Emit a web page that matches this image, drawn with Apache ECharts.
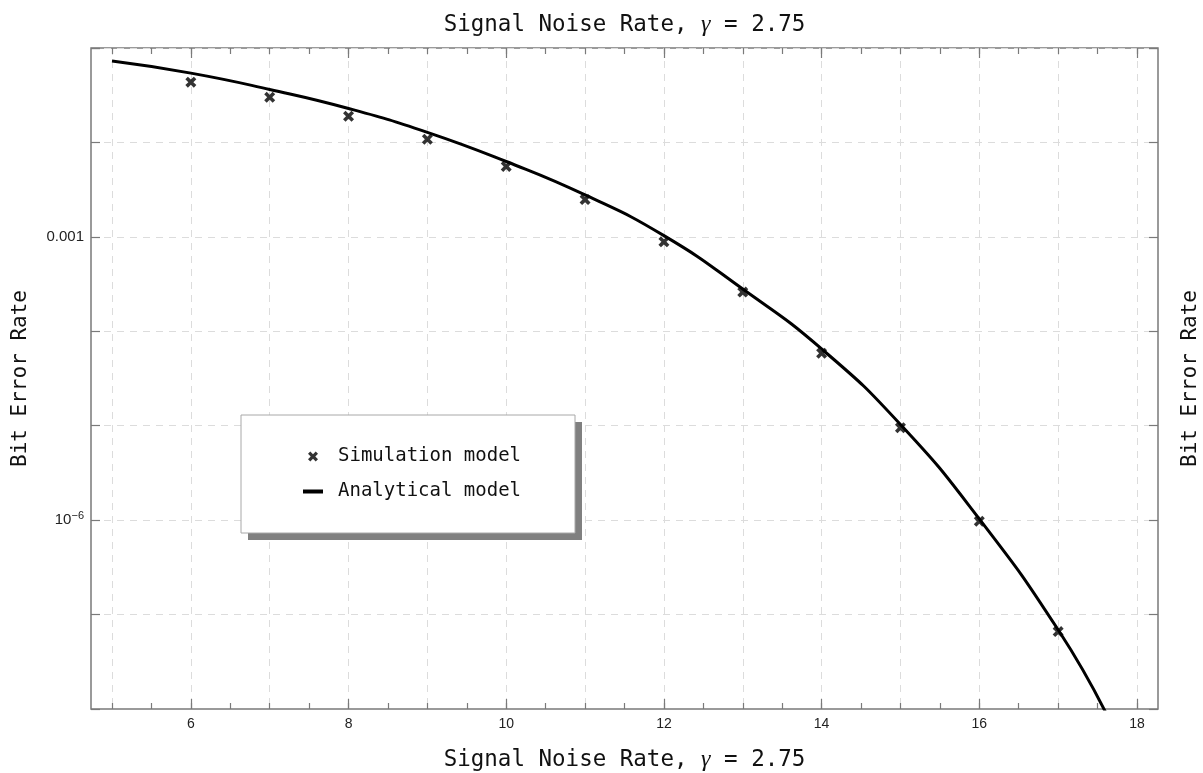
<!DOCTYPE html>
<html>
<head>
<meta charset="utf-8">
<script src="https://cdn.jsdelivr.net/npm/echarts@6/dist/echarts.min.js"></script>
<style>
  html, body { margin: 0; padding: 0; background: #fff; }
  #main { width: 1203px; height: 773px; }
</style>
</head>
<body>
<div id="main"></div>
<script>
// simulation points
const simX = [6, 7, 8, 9, 10, 11, 12, 13, 14, 15, 16, 17]
const simY = [0.0435, 0.0301, 0.0189, 0.0108, 0.00556, 0.00248, 0.000885, 0.00026, 5.84e-5, 9.5e-6, 9.75e-7, 6.6e-8]
// analytical curve
const anaX = [5, 6, 7, 8, 9, 10, 11, 12, 13, 14, 15, 16, 17, 17.6]
const anaY = [0.0727, 0.0542, 0.0364, 0.0229, 0.0128, 0.00628, 0.00278, 0.00103, 0.00028, 6.5e-5, 1.03e-5, 1.03e-6, 6.9e-8, 9.3e-9]
const xLabels = [6, 8, 10, 12, 14, 16, 18]
const yLabels = [-3, -6] // exponents that get a label

const mono = 'DejaVu Sans Mono'
const axisGray = '#7a7a7a'
const titleRich = {
  a: { fontFamily: mono, fontSize: 22.5, color: '#111' },
  g: { fontFamily: 'Liberation Serif', fontStyle: 'italic', fontSize: 24, color: '#111' }
}
const titleText = '{a|Signal Noise Rate, }{g|γ}{a| = 2.75}'
const xCross = 'path://M0,2.3L2.3,0L5,2.7L7.7,0L10,2.3L7.3,5L10,7.7L7.7,10L5,7.3L2.3,10L0,7.7L2.7,5Z'

function xAxisBase(pos) {
  return {
    type: 'value', gridIndex: 0, position: pos, min: 5, max: 18, interval: 1,
    axisLine: { show: false },
    axisTick: { show: true, inside: true, length: 6, lineStyle: { color: axisGray, width: 1.2 } },
    minorTick: { show: true, splitNumber: 2, length: 6, lineStyle: { color: axisGray, width: 1.2 } },
    axisLabel: { show: false },
    splitLine: { show: false }
  }
}
function xAxisMajor(pos) {
  return {
    type: 'value', gridIndex: 0, position: pos, min: 5, max: 18,
    axisLine: { show: false },
    axisTick: { show: true, inside: true, length: 10, customValues: xLabels, lineStyle: { color: axisGray, width: 1.2 } },
    axisLabel: { show: false },
    splitLine: { show: false }
  }
}

const bottomX = xAxisBase('bottom')
bottomX.splitLine = { show: true, showMinLine: true, showMaxLine: true, lineStyle: { color: '#dcdcdc', type: [7, 6], width: 1 } }
bottomX.name = titleText
bottomX.nameLocation = 'middle'
bottomX.nameGap = 39
bottomX.nameTextStyle = { rich: titleRich }
const bottomMajor = xAxisMajor('bottom')
bottomMajor.axisLabel = {
  show: true, customValues: xLabels, margin: 8,
  fontFamily: 'Liberation Sans', fontSize: 14, color: '#222'
}
const topX = xAxisBase('top')
topX.name = titleText
topX.nameLocation = 'middle'
topX.nameGap = 11
topX.nameTextStyle = { rich: titleRich }
const topMajor = xAxisMajor('top')

function yAxisSide(pos) {
  return {
    type: 'log', gridIndex: 1, position: pos, min: 1e-8, max: 0.1, logBase: 10,
    axisLine: { show: false },
    axisTick: { show: true, inside: true, length: 9, lineStyle: { color: axisGray, width: 1.2 } },
    axisLabel: { show: false },
    splitLine: { show: false },
    name: 'Bit Error Rate',
    nameLocation: 'middle',
    nameRotate: 90,
    nameTextStyle: { fontFamily: mono, fontSize: 21, color: '#111' }
  }
}
const leftY = yAxisSide('left')
leftY.nameGap = 60
leftY.splitLine = { show: true, showMinLine: false, showMaxLine: false, lineStyle: { color: '#dcdcdc', type: [7, 6], width: 1 } }
leftY.axisLabel = {
  show: true, margin: 7, fontFamily: 'Liberation Sans', fontSize: 15, color: '#222',
  formatter: function (v) {
    const e = Math.round(Math.log10(v))
    if (yLabels.indexOf(e) < 0) return ''
    if (e === -3) return '0.001'
    return '10{sup|−' + (-e) + '}'
  },
  rich: { sup: { fontSize: 11, verticalAlign: 'top', padding: [0, 0, 8, 0], fontFamily: 'Liberation Sans', color: '#222' } }
}
const rightY = yAxisSide('right')
rightY.nameGap = 22

const option = {
  animation: false,
  backgroundColor: '#fff',
  grid: [
    { left: 112, right: 66, top: 48, bottom: 64, outerBoundsMode: 'none', containLabel: false },
    { left: 91, right: 45, top: 48, bottom: 64, outerBoundsMode: 'none', containLabel: false, show: true, borderColor: axisGray, borderWidth: 1.5 }
  ],
  xAxis: [
    bottomX, bottomMajor, topX, topMajor,
    { type: 'value', gridIndex: 1, show: false, min: 0, max: 1 }
  ],
  yAxis: [
    { type: 'log', gridIndex: 0, show: false, min: 1e-8, max: 0.1, logBase: 10 },
    leftY, rightY
  ],
  legend: {
    orient: 'vertical', left: 301, top: 447, padding: 0,
    itemWidth: 20, itemHeight: 10, itemGap: 16, z: 5,
    textStyle: { fontFamily: mono, fontSize: 19, color: '#111', padding: [0, 0, 0, 10] },
    data: [
      { name: 'Simulation model' },
      { name: 'Analytical model', itemStyle: { opacity: 0 }, lineStyle: { width: 4, color: '#000' } }
    ]
  },
  graphic: [
    {
      type: 'rect', z: 3,
      shape: { x: 248, y: 422, width: 334, height: 118 },
      style: { fill: '#808080' }
    },
    {
      type: 'rect', z: 4,
      shape: { x: 241, y: 415, width: 334, height: 118 },
      style: { fill: '#fff', stroke: '#a8a8a8', lineWidth: 1 }
    }
  ],
  series: [
    {
      name: 'Analytical model', type: 'line', xAxisIndex: 0, yAxisIndex: 0,
      data: anaX.map((x, i) => [x, anaY[i]]),
      smooth: true, showSymbol: false, symbol: 'none', clip: true,
      lineStyle: { color: '#000', width: 3 }, itemStyle: { color: '#000', opacity: 0 }
    },
    {
      name: 'Simulation model', type: 'scatter', xAxisIndex: 0, yAxisIndex: 0,
      data: simX.map((x, i) => [x, simY[i]]),
      symbol: xCross, symbolSize: 11,
      itemStyle: { color: '#000' }, z: 3
    }
  ]
}

const chart = echarts.init(document.getElementById('main'))
chart.setOption(option)
</script>
</body>
</html>
